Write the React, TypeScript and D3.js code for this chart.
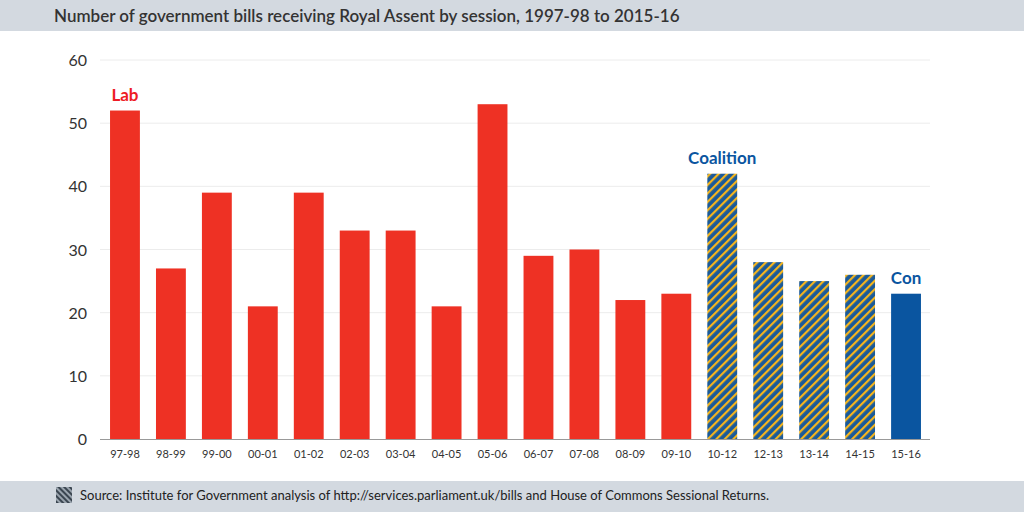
import React from "react";
import * as d3 from "d3";

const sessions = ["97-98","98-99","99-00","00-01","01-02","02-03","03-04","04-05","05-06","06-07","07-08","08-09","09-10","10-12","12-13","13-14","14-15","15-16"];
const bills = [52,27,39,21,39,33,33,21,53,29,30,22,23,42,28,25,26,23];
const govts = ["Lab","Lab","Lab","Lab","Lab","Lab","Lab","Lab","Lab","Lab","Lab","Lab","Lab","Coa","Coa","Coa","Coa","Con"];
const yTicks = [0,10,20,30,40,50,60];

export default function App() {
  const W = 1024, H = 512;
  const x = d3.scaleBand<string>().domain(sessions).range([102, 929]).paddingInner(0.35).paddingOuter(0.175);
  const y = d3.scaleLinear().domain([0, 60]).range([439, 60]);
  const font = "Lato, 'Open Sans', sans-serif";
  const fill = (g: string) => g === "Lab" ? "#ee3124" : g === "Con" ? "#0a55a0" : "url(#hatch)";
  const labels = [
    { i: 0, t: "Lab", c: "#ee1c25" },
    { i: 13, t: "Coalition", c: "#0a55a0" },
    { i: 17, t: "Con", c: "#0a55a0" },
  ];
  return (
    <svg width={W} height={H} style={{ position: "absolute", left: 0, top: 0 }} fontFamily={font}>
      <defs>
        <pattern id="hatch" width="6" height="6" patternUnits="userSpaceOnUse" patternTransform="rotate(45)">
          <rect width="6" height="6" fill="#1a5a9a" />
          <rect width="2.2" height="6" fill="#f5b51d" />
        </pattern>
        <pattern id="icon" width="4" height="4" patternUnits="userSpaceOnUse" patternTransform="rotate(-45)">
          <rect width="4" height="4" fill="#9aa4ae" />
          <rect width="2" height="4" fill="#3a4550" />
        </pattern>
      </defs>
      <rect width={W} height={H} fill="#fff" />
      <rect x={0} y={0} width={W} height={31} fill="#d3d9e0" />
      <text x={54} y={22} fontSize={17} fill="#333" fontWeight={600}>Number of government bills receiving Royal Assent by session, 1997-98 to 2015-16</text>
      {yTicks.map(t => (
        <g key={t}>
          {t > 0 && <line x1={100} x2={930} y1={y(t)} y2={y(t)} stroke="#ececec" />}
          <text x={87} y={y(t) + 6} fontSize={16} textAnchor="end" fill="#333">{t}</text>
        </g>
      ))}
      {sessions.map((s, i) => (
        <g key={s}>
          <rect x={x(s)} y={y(bills[i])} width={x.bandwidth()} height={y(0) - y(bills[i])} fill={fill(govts[i])} />
          <text x={x(s)! + x.bandwidth() / 2} y={458} fontSize={11} textAnchor="middle" fill="#333">{s}</text>
        </g>
      ))}
      <line x1={100} x2={930} y1={439.5} y2={439.5} stroke="#999" />
      {labels.map(l => (
        <text key={l.t} x={x(sessions[l.i])! + x.bandwidth() / 2} y={y(bills[l.i]) - 10} fontSize={17} fontWeight={700} textAnchor="middle" fill={l.c}>{l.t}</text>
      ))}
      <rect x={0} y={481} width={W} height={31} fill="#d3d9e0" />
      <rect x={56} y={487} width={16} height={16} fill="url(#icon)" />
      <text x={80} y={500} fontSize={13} fill="#222">Source: Institute for Government analysis of http://services.parliament.uk/bills and House of Commons Sessional Returns.</text>
    </svg>
  );
}
